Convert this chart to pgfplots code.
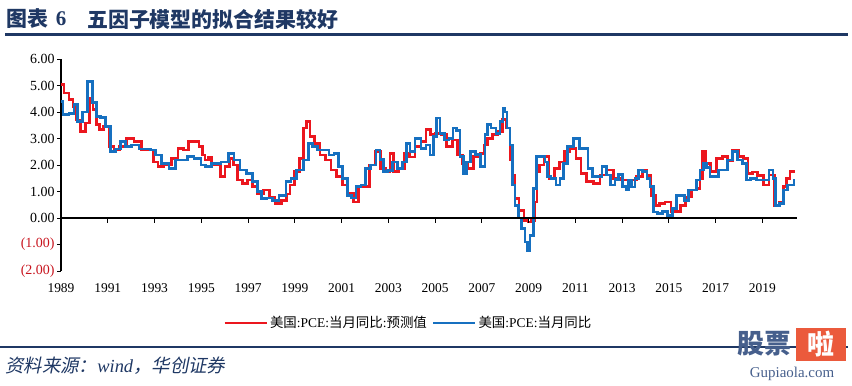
\documentclass[border=0pt]{standalone}
\usepackage{fontspec}
\usepackage{pgfplots}
\pgfplotsset{compat=1.18}
\setmainfont{Liberation Serif}
\newfontfamily\cjk{Noto Sans CJK SC}
\newfontfamily\cjkit[FakeSlant=0.2]{Noto Sans CJK SC}
\definecolor{pcered}{RGB}{235,22,30}
\definecolor{pceblue}{RGB}{22,112,192}
\definecolor{navy}{RGB}{31,56,100}
\definecolor{negred}{RGB}{200,20,30}
\definecolor{wmblue}{RGB}{70,95,140}
\definecolor{wmorange}{RGB}{235,90,60}
\begin{document}
\begin{tikzpicture}
\useasboundingbox (0,0) rectangle (852bp,-386bp);
% title
\node[anchor=west, inner sep=0, text=navy, font=\cjk\bfseries\fontsize{21}{23}\selectfont] at (6bp,-19bp) {图表};
\node[anchor=center, inner sep=0, text=navy, font=\bfseries\fontsize{21}{23}\selectfont] at (61bp,-19bp) {6};
\node[anchor=west, inner sep=0, text=navy, font=\cjk\bfseries\fontsize{21}{23}\selectfont] at (87bp,-19bp) {五因子模型的拟合结果较好};
\draw[navy, line width=2.5bp] (5bp,-34.5bp) -- (848bp,-34.5bp);
% footer
\draw[navy, line width=2.5bp] (0bp,-347bp) -- (848bp,-347bp);
\node[anchor=west, inner sep=0, text=navy, font=\fontsize{18.5}{20}\selectfont] at (5bp,-366bp) {{\cjkit 资料来源：}\textit{wind}{\cjkit ，华创证券}};
% watermark
\node[anchor=west, inner sep=0, text=wmblue, font=\cjk\bfseries\fontsize{27}{29}\selectfont] at (737bp,-344bp) {股票};
\fill[wmorange] (796bp,-328bp) rectangle (846bp,-361bp);
\node[anchor=center, inner sep=0, text=white, font=\cjk\bfseries\fontsize{27}{29}\selectfont] at (821bp,-344bp) {啦};
\node[anchor=center, inner sep=0, text=wmblue, font=\fontsize{15}{17}\selectfont] at (792bp,-374bp) {Gupiaola.com};
\begin{axis}[
  at={(61bp,-271bp)}, anchor=south west,
  scale only axis, width=736bp, height=212bp,
  xmin=1989, xmax=2020.48, ymin=-2, ymax=6,
  axis lines*=left,
  x axis line style={draw=none},
  y axis line style={black, line width=1.5bp, -},
  xtick={1989,1991,...,2019},
  xtick style={draw=none},
  xticklabel style={font=\fontsize{13.5}{15}\selectfont, yshift=-5bp, /pgf/number format/1000 sep={}, /pgf/number format/assume math mode=true},
  ytick={-2,-1,0,1,2,3,4,5,6},
  yticklabels={{\color{negred}(2.00)},{\color{negred}(1.00)},0.00,1.00,2.00,3.00,4.00,5.00,6.00},
  yticklabel style={font=\fontsize{14}{15}\selectfont, xshift=1bp},
  ytick style={black, line width=1bp},
  tick align=outside, major tick length=4bp,
  clip=false,
  legend style={at={(0.472,-0.245)}, anchor=center, draw=none, fill=none, legend columns=2,
    font=\fontsize{13.5}{15}\selectfont, /tikz/every even column/.append style={column sep=3bp}},
  legend image code/.code={\draw[#1] (0bp,0bp) -- (42bp,0bp);},
]
\addplot[pcered, line width=2.6bp, const plot mark mid] coordinates {
(1989.01,5.04) (1989.23,4.72) (1989.44,4.47) (1989.60,4.20) (1989.73,3.70) (1989.94,3.26) (1990.15,3.58) (1990.30,4.53) (1990.44,4.09) (1990.58,3.52) (1990.72,3.33) (1990.94,3.45) (1991.15,2.69) (1991.37,2.57) (1991.65,2.69) (1991.94,3.01) (1992.29,2.88) (1992.58,2.57) (1992.81,2.57) (1993.08,2.12) (1993.22,1.94) (1993.58,2.00) (1993.86,2.25) (1994.15,2.63) (1994.35,2.57) (1994.57,2.88) (1994.79,2.88) (1995.00,2.69) (1995.09,2.38) (1995.23,2.19) (1995.37,2.30) (1995.51,2.00) (1995.72,2.00) (1995.94,1.56) (1996.09,1.94) (1996.30,2.25) (1996.44,2.00) (1996.66,1.43) (1996.87,1.30) (1997.08,1.43) (1997.30,1.18) (1997.51,0.93) (1997.80,1.05) (1998.01,0.80) (1998.29,0.55) (1998.58,0.67) (1998.71,0.90) (1998.87,1.24) (1999.08,1.75) (1999.30,2.25) (1999.44,3.39) (1999.58,3.64) (1999.72,3.07) (1999.94,2.82) (2000.22,2.38) (2000.43,2.19) (2000.65,1.81) (2000.93,1.56) (2001.15,1.24) (2001.37,0.93) (2001.65,0.61) (2001.79,1.18) (2002.08,1.18) (2002.29,2.00) (2002.57,2.50) (2002.78,1.87) (2002.99,1.75) (2003.14,2.44) (2003.29,1.75) (2003.57,1.87) (2003.79,2.44) (2004.00,2.30) (2004.28,2.69) (2004.50,2.88) (2004.71,3.33) (2004.92,3.14) (2005.14,3.20) (2005.35,3.14) (2005.64,2.69) (2005.85,2.95) (2006.07,2.38) (2006.28,2.06) (2006.49,1.87) (2006.78,2.32) (2007.07,2.44) (2007.14,2.76) (2007.35,3.01) (2007.56,3.14) (2007.77,3.26) (2007.98,3.71) (2008.13,3.40) (2008.28,2.19) (2008.34,1.62) (2008.49,0.74) (2008.70,0.29) (2008.91,-0.09) (2009.05,-0.15) (2009.19,-0.10) (2009.33,0.61) (2009.40,1.75) (2009.55,2.00) (2009.77,2.32) (2009.99,1.49) (2010.20,1.87) (2010.42,2.12) (2010.63,2.50) (2010.92,2.63) (2011.13,2.25) (2011.34,1.68) (2011.63,1.37) (2011.91,1.30) (2012.20,1.62) (2012.48,1.81) (2012.77,1.49) (2013.20,1.43) (2013.46,1.43) (2013.77,1.56) (2013.99,1.81) (2014.13,1.60) (2014.34,0.86) (2014.49,0.48) (2014.69,0.55) (2014.98,0.61) (2015.19,0.23) (2015.40,0.25) (2015.61,0.48) (2015.82,0.80) (2016.11,1.05) (2016.26,1.12) (2016.40,1.49) (2016.50,2.50) (2016.64,2.06) (2016.90,1.75) (2017.19,2.25) (2017.40,2.31) (2017.61,2.15) (2017.83,2.57) (2018.11,2.31) (2018.29,2.25) (2018.47,1.68) (2018.68,1.74) (2018.90,1.60) (2019.18,1.24) (2019.40,1.62) (2019.62,0.48) (2019.82,0.60) (2019.97,1.18) (2020.11,1.49) (2020.26,1.75) (2020.39,1.75)
};
\addlegendentry{{\cjk 美国}:PCE:{\cjk 当月同比}:{\cjk 预测值}}
\addplot[pceblue, line width=2.6bp, const plot mark mid] coordinates {
(1989.01,4.40) (1989.17,3.90) (1989.51,3.95) (1989.60,4.28) (1989.80,3.64) (1990.03,4.00) (1990.23,5.16) (1990.44,4.35) (1990.58,3.83) (1990.80,3.80) (1991.01,3.45) (1991.22,2.50) (1991.44,2.60) (1991.65,2.88) (1991.87,2.70) (1992.17,2.75) (1992.51,2.60) (1992.72,2.60) (1992.93,2.57) (1993.15,2.38) (1993.44,2.06) (1993.79,1.87) (1994.00,2.19) (1994.26,2.19) (1994.56,2.32) (1994.82,2.25) (1995.15,2.00) (1995.23,1.94) (1995.66,2.06) (1996.01,2.12) (1996.30,2.44) (1996.51,2.19) (1996.80,1.81) (1997.08,1.68) (1997.30,1.37) (1997.51,0.99) (1997.65,0.74) (1997.94,0.76) (1998.15,0.67) (1998.51,0.86) (1998.72,1.37) (1998.94,1.49) (1999.22,1.81) (1999.51,2.19) (1999.65,2.82) (1999.86,2.69) (2000.08,2.57) (2000.36,2.57) (2000.58,2.38) (2000.79,2.44) (2000.93,1.94) (2001.15,1.49) (2001.37,0.85) (2001.50,0.76) (2001.72,1.18) (2001.93,1.24) (2002.14,1.87) (2002.36,2.00) (2002.57,2.57) (2002.72,2.20) (2002.86,1.75) (2003.07,1.80) (2003.29,2.12) (2003.50,1.87) (2003.71,2.12) (2003.85,2.82) (2004.00,2.50) (2004.28,3.01) (2004.50,2.63) (2004.71,2.75) (2004.86,2.38) (2005.00,3.07) (2005.14,3.77) (2005.28,3.20) (2005.50,2.95) (2005.68,3.00) (2005.85,3.39) (2005.98,3.30) (2006.14,2.32) (2006.28,1.68) (2006.42,2.12) (2006.63,2.50) (2006.84,2.40) (2007.07,1.94) (2007.21,3.14) (2007.28,3.52) (2007.50,3.39) (2007.70,3.20) (2007.85,3.64) (2007.95,4.15) (2008.03,4.00) (2008.13,3.39) (2008.28,2.76) (2008.34,1.24) (2008.49,0.48) (2008.63,0.00) (2008.77,-0.40) (2008.91,-0.91) (2008.98,-1.23) (2009.13,-0.66) (2009.27,1.12) (2009.42,2.32) (2009.62,2.32) (2009.77,2.12) (2009.84,1.56) (2010.06,1.49) (2010.27,1.24) (2010.42,1.49) (2010.56,2.06) (2010.77,2.69) (2011.06,3.01) (2011.27,2.63) (2011.46,2.63) (2011.63,1.87) (2011.84,1.56) (2012.05,1.56) (2012.23,1.94) (2012.41,1.62) (2012.62,1.24) (2012.77,1.45) (2012.91,1.65) (2013.12,1.18) (2013.20,1.05) (2013.34,1.43) (2013.48,1.17) (2013.63,1.49) (2013.77,1.81) (2013.99,1.75) (2014.13,1.49) (2014.27,1.18) (2014.41,0.23) (2014.63,0.17) (2014.84,0.25) (2015.05,0.10) (2015.26,0.36) (2015.40,0.86) (2015.60,0.86) (2015.76,0.67) (2015.90,1.05) (2016.11,1.05) (2016.26,1.43) (2016.40,1.81) (2016.54,2.06) (2016.67,1.90) (2016.83,1.56) (2017.04,1.56) (2017.19,1.81) (2017.40,1.81) (2017.61,2.19) (2017.83,2.50) (2018.04,2.19) (2018.25,2.05) (2018.40,1.43) (2018.60,1.50) (2018.90,1.43) (2019.18,1.43) (2019.40,1.81) (2019.50,1.50) (2019.64,0.48) (2019.82,0.55) (2019.97,1.05) (2020.18,1.24) (2020.31,1.24) (2020.39,1.43)
};
\addlegendentry{{\cjk 美国}:PCE:{\cjk 当月同比}}
\draw[black, line width=1.5bp] (axis cs:1989,0) -- (axis cs:2020.48,0);
\pgfplotsinvokeforeach{1991,1993,...,2019}{\draw[black, line width=1bp] (axis cs:#1,0) -- ++(0pt,-5bp);}
\end{axis}
\end{tikzpicture}
\end{document}
